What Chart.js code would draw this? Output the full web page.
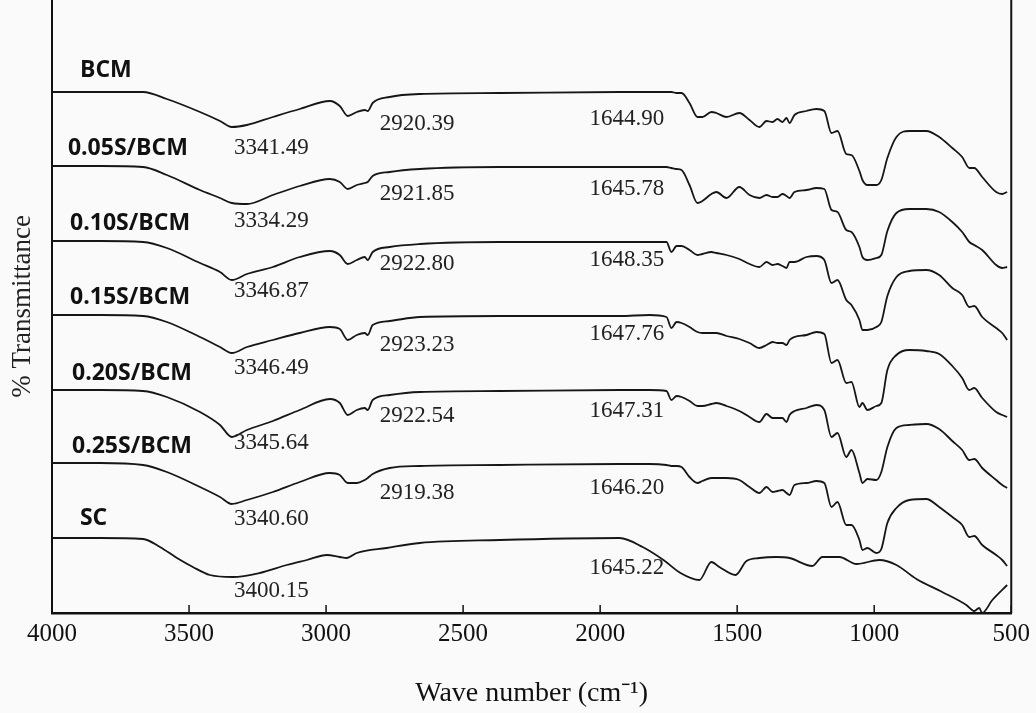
<!DOCTYPE html>
<html>
<head>
<meta charset="utf-8">
<title>FTIR spectra</title>
<script src="https://cdn.jsdelivr.net/npm/chart.js@4.4.1/dist/chart.umd.min.js"></script>
<style>
    body { margin: 0; background: #fafafa; }
    #wrap { width: 1036px; height: 713px; }
</style>
</head>
<body>
<div id="wrap"><canvas id="ftir" width="1036" height="713"></canvas></div>
<script>
// ---------------------------------------------------
// DATA (transmittance in stacked arbitrary units)
// ---------------------------------------------------
const waveBCM = [4000, 3825, 3668, 3581, 3460, 3387, 3344, 3289, 3194, 3096,
    2986, 2950, 2921, 2888, 2859, 2848, 2830, 2768, 2658, 2367,
    1929, 1820, 1758, 1740, 1721, 1703, 1674, 1645, 1627, 1594,
    1576, 1539, 1492, 1455, 1419, 1393, 1371, 1353, 1335, 1320,
    1309, 1291, 1247, 1211, 1182, 1156, 1134, 1102, 1083, 1054,
    1043, 1025, 992, 974, 952, 919, 872, 810, 763, 715,
    679, 653, 635, 606, 555, 533, 515];

const bcm = [521, 521, 521, 514, 501, 492, 486, 488, 496, 504,
    512, 507, 497, 501, 503, 502, 510, 516, 519, 520,
    521, 521, 521, 521, 520, 520, 510, 496, 496, 501,
    500, 496, 500, 493, 486, 492, 491, 494, 491, 495,
    490, 498, 502, 504, 502, 480, 482, 459, 458, 442,
    433, 428, 428, 433, 455, 476, 482, 482, 476, 465,
    456, 445, 445, 436, 421, 419, 421];

const s005 = [447, 447, 446, 438, 423, 415, 410, 409, 418, 427,
    434, 431, 424, 428, 430, 431, 437, 441, 444, 446,
    446, 446, 446, 445, 444, 443, 428, 410, 412, 419,
    421, 415, 426, 418, 415, 418, 416, 416, 419, 417,
    415, 421, 423, 425, 424, 403, 401, 383, 381, 366,
    356, 353, 355, 358, 382, 400, 404, 404, 401, 391,
    381, 371, 368, 363, 348, 345, 346];

const s010 = [372, 372, 371, 365, 350, 341, 333, 339, 346, 356,
    362, 358, 349, 353, 356, 353, 361, 366, 369, 371,
    371, 371, 371, 361, 367, 367, 363, 358, 359, 361,
    360, 358, 354, 349, 346, 351, 348, 349, 347, 345,
    351, 351, 356, 357, 353, 330, 333, 313, 308, 293,
    283, 283, 286, 291, 317, 336, 342, 343, 338, 325,
    318, 306, 307, 296, 285, 280, 273];

const s015 = [298, 298, 297, 291, 276, 266, 260, 266, 273, 280,
    286, 284, 273, 278, 280, 278, 288, 292, 296, 297,
    297, 298, 296, 285, 291, 290, 286, 281, 280, 280,
    280, 277, 274, 270, 265, 268, 271, 270, 270, 268,
    273, 276, 278, 281, 279, 250, 253, 230, 231, 206,
    210, 203, 207, 210, 243, 258, 263, 262, 259, 247,
    235, 223, 225, 215, 201, 198, 196];

const s020 = [223, 223, 222, 216, 201, 188, 176, 183, 192, 203,
    214, 210, 198, 203, 205, 203, 213, 218, 221, 222,
    223, 223, 222, 213, 217, 216, 212, 207, 207, 209,
    210, 207, 202, 196, 191, 199, 195, 195, 195, 191,
    198, 202, 205, 208, 203, 176, 180, 156, 163, 140,
    130, 134, 133, 141, 166, 185, 188, 189, 184, 172,
    163, 153, 154, 145, 133, 128, 125];

const s025 = [150, 150, 148, 141, 126, 116, 109, 113, 121, 131,
    140, 138, 130, 130, 133, 135, 139, 145, 147, 148,
    149, 149, 148, 147, 147, 146, 136, 130, 132, 135,
    135, 135, 133, 126, 120, 126, 121, 122, 123, 120,
    118, 128, 130, 132, 130, 106, 111, 88, 88, 73,
    63, 65, 60, 64, 90, 105, 113, 114, 106, 96,
    88, 76, 77, 68, 58, 53, 47];

const waveSC = [4000, 3825, 3668, 3606, 3544, 3486, 3424, 3340, 3242, 3143,
    3070, 2997, 2950, 2924, 2888, 2779, 2658, 2367, 1929, 1845,
    1769, 1707, 1638, 1594, 1565, 1506, 1466, 1419, 1357, 1309,
    1226, 1189, 1127, 1065, 981, 919, 846, 752, 664, 635,
    617, 606, 569, 515];

const sc = [75, 75, 74, 66, 55, 46, 38, 36, 40, 48,
    53, 58, 56, 55, 60, 65, 70, 73, 75, 66,
    53, 40, 33, 51, 46, 38, 52, 55, 56, 55,
    47, 56, 56, 49, 53, 48, 34, 21, 8, 2,
    5, 0, 13, 28];

const xTicks = [4000, 3500, 3000, 2500, 2000, 1500, 1000, 500];

// labels next to the curves (wave number, level)
const sampleNames = ["BCM", "0.05S/BCM", "0.10S/BCM", "0.15S/BCM", "0.20S/BCM", "0.25S/BCM", "SC"];
const nameWave = [3898, 3942, 3934, 3934, 3927, 3927, 3898];
const nameLevel = [543, 465, 390, 316, 240, 167, 95];

const ohPeaks = ["3341.49", "3334.29", "3346.87", "3346.49", "3345.64", "3340.60", "3400.15"];
const ohLevel = [465, 392, 322, 245, 170, 94, 22];
const chPeaks = ["2920.39", "2921.85", "2922.80", "2923.23", "2922.54", "2919.38"];
const chLevel = [489, 419, 349, 268, 197, 120];
const coPeaks = ["1644.90", "1645.78", "1648.35", "1647.76", "1647.31", "1646.20", "1645.22"];
const coLevel = [494, 424, 353, 279, 202, 125, 45];
const ohWave = 3336, chWave = 2804, coWave = 2039;


// ---------------------------------------------------
// DATASETS
// ---------------------------------------------------
function toPoints(waves, values) {
    return waves.map((w, i) => ({ x: w, y: values[i] }));
}

const seriesList = [
    toPoints(waveBCM, bcm),
    toPoints(waveBCM, s005),
    toPoints(waveBCM, s010),
    toPoints(waveBCM, s015),
    toPoints(waveBCM, s020),
    toPoints(waveBCM, s025),
    toPoints(waveSC, sc)
];

const datasets = seriesList.map((pts, i) => ({
    label: sampleNames[i],
    data: pts,
    borderColor: "#161616",
    borderWidth: 1.8,
    pointRadius: 0,
    fill: false,
    cubicInterpolationMode: "monotone"
}));


// ---------------------------------------------------
// FRAME + TEXT PLUGIN
// ---------------------------------------------------
const annotate = {
    id: "annotate",
    beforeDraw(chart) {
        const ctx = chart.ctx;
        ctx.save();
        ctx.fillStyle = "#fafafa";
        ctx.fillRect(0, 0, chart.width, chart.height);
        ctx.restore();
    },
    afterDraw(chart) {
        const { ctx, chartArea } = chart;
        const xs = chart.scales.x;
        const ys = chart.scales.y;
        ctx.save();

        // right border
        ctx.strokeStyle = "#111";
        ctx.lineWidth = 2;
        ctx.beginPath();
        ctx.moveTo(chartArea.right, chartArea.top);
        ctx.lineTo(chartArea.right, chartArea.bottom);
        ctx.stroke();

        // inward tick marks
        ctx.lineWidth = 1.5;
        xs.ticks.forEach(t => {
            const px = xs.getPixelForValue(t.value);
            ctx.beginPath();
            ctx.moveTo(px, chartArea.bottom);
            ctx.lineTo(px, chartArea.bottom - 8);
            ctx.stroke();
        });

        ctx.textBaseline = "middle";
        ctx.textAlign = "left";

        // sample names
        ctx.fillStyle = "#111";
        ctx.font = "bold 23px 'Open Sans'";
        sampleNames.forEach((n, i) => {
            ctx.fillText(n, xs.getPixelForValue(nameWave[i]), ys.getPixelForValue(nameLevel[i]));
        });

        // peak positions
        ctx.fillStyle = "#222";
        ctx.font = "23px 'Liberation Serif'";
        ohPeaks.forEach((p, i) => ctx.fillText(p, xs.getPixelForValue(ohWave), ys.getPixelForValue(ohLevel[i])));
        chPeaks.forEach((p, i) => ctx.fillText(p, xs.getPixelForValue(chWave), ys.getPixelForValue(chLevel[i])));
        coPeaks.forEach((p, i) => ctx.fillText(p, xs.getPixelForValue(coWave), ys.getPixelForValue(coLevel[i])));

        ctx.restore();
    }
};


// ---------------------------------------------------
// CHART
// ---------------------------------------------------
new Chart(document.getElementById("ftir"), {
    type: "line",
    data: { datasets },
    plugins: [annotate],
    options: {
        responsive: false,
        devicePixelRatio: 1,
        animation: false,
        layout: { padding: { left: 0, right: 24, top: 0, bottom: 0 } },
        plugins: {
            legend: { display: false },
            tooltip: { enabled: false }
        },
        scales: {
            x: {
                type: "linear",
                reverse: true,
                min: 500,
                max: 4000,
                afterBuildTicks: scale => { scale.ticks = xTicks.map(v => ({ value: v })); },
                afterFit: scale => { scale.height = 100; },
                grid: { display: false, drawTicks: false },
                border: { display: true, color: "#111", width: 2.5 },
                ticks: {
                    color: "#111",
                    padding: 6,
                    maxRotation: 0,
                    callback: v => String(v),
                    font: { family: "Liberation Serif", size: 25 }
                },
                title: {
                    display: true,
                    text: "Wave number (cm\u207B\u00B9)",
                    color: "#111",
                    padding: { top: 0, bottom: 3 },
                    font: { family: "Liberation Serif", size: 28 }
                }
            },
            y: {
                min: 0,
                max: 613,
                afterFit: scale => { scale.width = 52; },
                grid: { display: false, drawTicks: false },
                border: { display: true, color: "#111", width: 2 },
                ticks: { display: false },
                title: {
                    display: true,
                    text: "% Transmittance",
                    color: "#222",
                    padding: { top: 7, bottom: 0 },
                    font: { family: "Liberation Serif", size: 27 }
                }
            }
        }
    }
});
</script>
</body>
</html>
